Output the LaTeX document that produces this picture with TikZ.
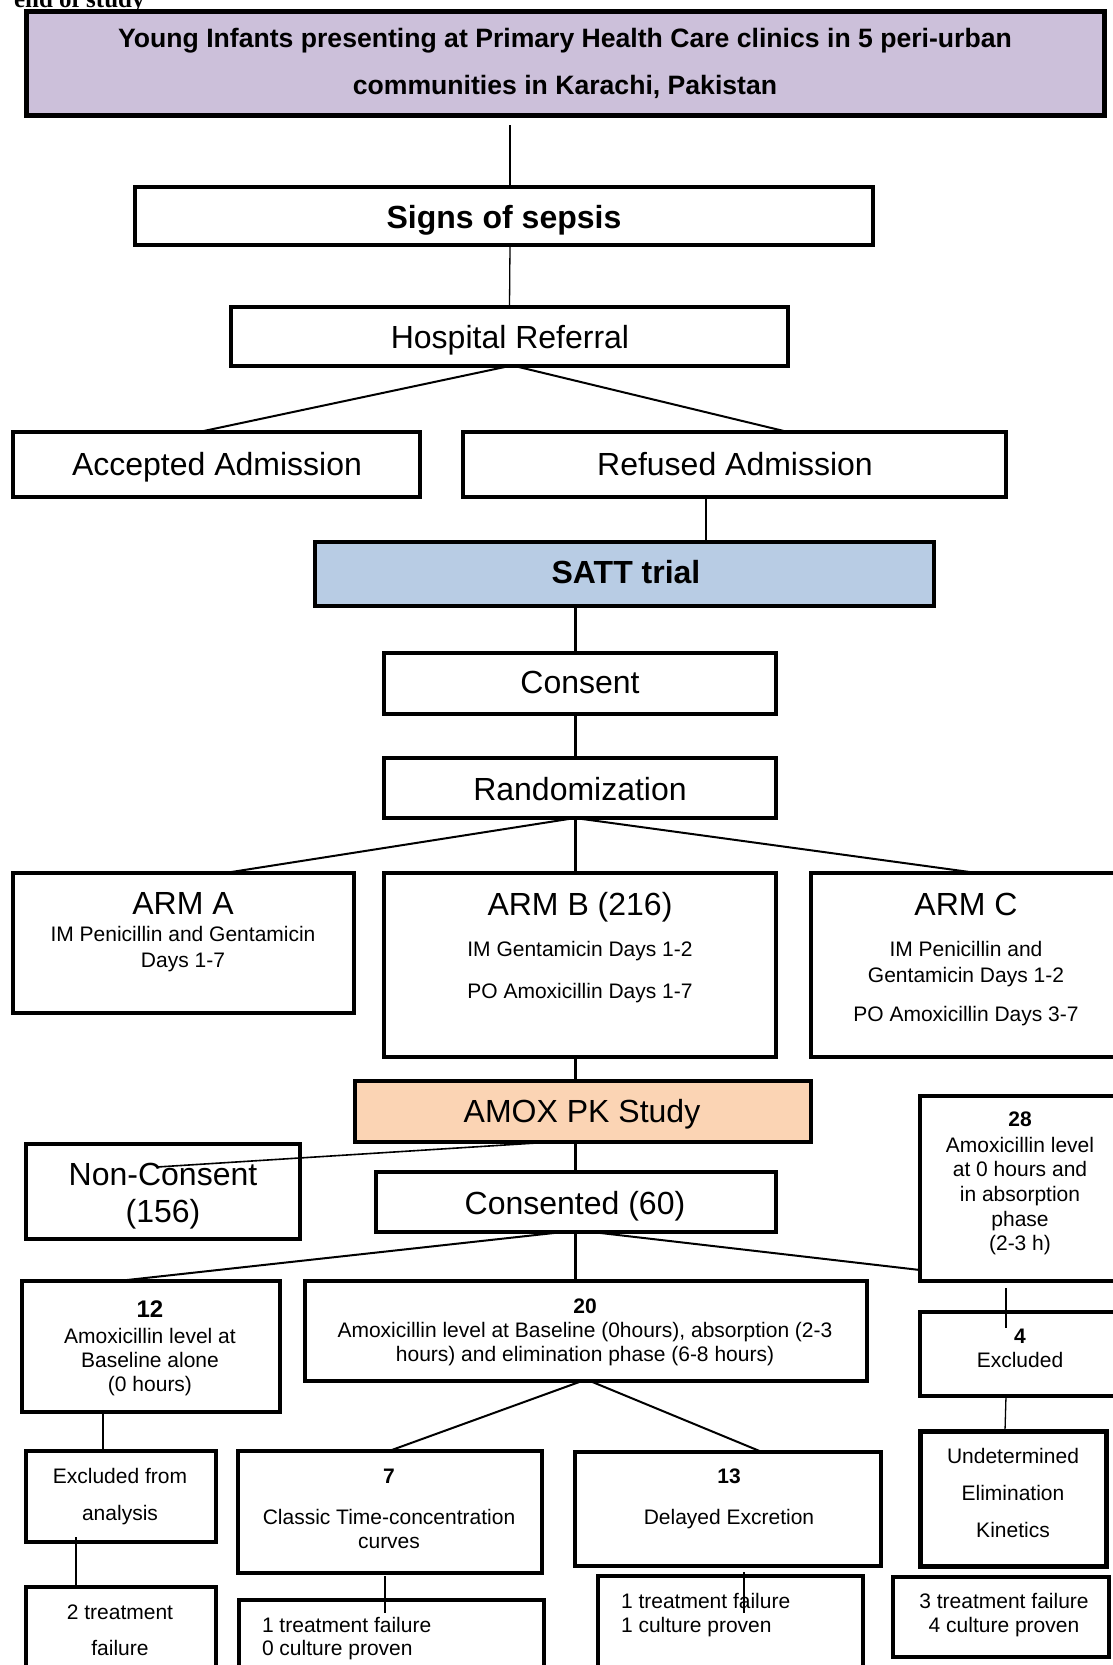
\documentclass[tikz,border=0pt]{standalone}
\usepackage{fontspec}
\setmainfont{Liberation Sans}
\newfontfamily\serifbold{Liberation Serif}
\usetikzlibrary{calc}
\definecolor{purp}{RGB}{204,192,218}
\definecolor{sattblue}{RGB}{184,204,228}
\definecolor{peach}{RGB}{251,212,180}
\newcommand\fsz[1]{\fontsize{#1}{#1}\selectfont}
\tikzset{
  boxst/.style={draw=black, line width=4.5pt, fill=white, rectangle, inner sep=0pt, outer sep=0pt},
  txt/.style={anchor=base, inner sep=0pt, outer sep=0pt},
  ltxt/.style={anchor=base west, inner sep=0pt, outer sep=0pt},
  fL/.style={font=\fsz{32}},
  fLb/.style={font=\bfseries\fsz{32}},
  fS/.style={font=\fsz{21}},
  fSb/.style={font=\bfseries\fsz{21}},
  thin/.style={line width=1.3pt},
  mid/.style={line width=2pt},
  thick3/.style={line width=3pt},
}
\newcommand\bx[6][]{\node[boxst,#1,minimum width={#4-#2},minimum height={#5-#3}] (#6) at ({(#2+#4)/2},{(#3+#5)/2}) {};}
\newcommand\tl[5]{\node[txt,#4] (#1) at (#2,#3) {#5};}
\newcommand\tll[5]{\node[ltxt,#4] (#1) at (#2,#3) {#5};}
\begin{document}
\begin{tikzpicture}[x=1pt,y=-1pt]
\useasboundingbox (0,0) rectangle (1113,1665);
\clip (0,0) rectangle (1113,1665);
% cut-off heading
\node[ltxt,font=\serifbold\bfseries\fsz{25}] (eos) at (14,7) {end of study};
% boxes
\bx[fill=purp,line width=5pt]{26}{11}{1104}{115}{top}
\bx{135}{187}{873}{245}{signs}
\bx{231}{307}{788}{366}{hosp}
\bx{13}{432}{420}{497}{acc}
\bx{463}{432}{1006}{497}{ref}
\bx[fill=sattblue]{315}{542}{934}{606}{satt}
\bx{384}{653}{776}{714}{consent}
\bx{384}{758}{776}{818}{rand}
\bx{13}{873}{354}{1013}{armA}
\bx{384}{873}{776}{1057}{armB}
\bx{811}{873}{1125}{1057}{armC}
\bx[fill=peach]{355}{1081}{811}{1142}{amox}
\bx{26}{1144}{300}{1239}{noncons}
\bx{376}{1172}{776}{1232}{cons60}
\bx{920}{1096}{1125}{1281}{b28}
\bx{22}{1281}{280}{1412}{b12}
\bx{305}{1281}{867}{1381}{b20}
\bx{920}{1312}{1125}{1396}{b4}
\bx{26}{1451}{216}{1542}{bExcl}
\bx{238}{1451}{542}{1573}{b7}
\bx{575}{1452}{881}{1566}{b13}
\bx[line width=5pt]{920}{1431}{1106}{1566}{bUnd}
\bx{26}{1587}{216}{1700}{b2tf}
\bx{239}{1600}{544}{1700}{b1tf0}
\bx{598}{1576}{863}{1700}{b1tf1}
\bx[line width=4pt]{893}{1577}{1109}{1657}{b3tf}
% texts
\tl{tTop1}{565}{47}{font=\bfseries\fsz{26.6}}{Young Infants presenting at Primary Health Care clinics in 5 peri-urban}
\tl{tTop2}{565}{94}{font=\bfseries\fsz{26.6}}{communities in Karachi, Pakistan}
\tl{tSigns}{504}{228}{fLb}{Signs of sepsis}
\tl{tHosp}{510}{348}{fL}{Hospital Referral}
\tl{tAcc}{217}{475}{fL}{Accepted Admission}
\tl{tRef}{735}{475}{fL}{Refused Admission}
\tl{tSatt}{626}{583}{fLb}{SATT trial}
\tl{tCons}{580}{693}{fL}{Consent}
\tl{tRand}{580}{800}{fL}{Randomization}
\tl{tA0}{183}{914}{fL}{ARM A}
\tl{tA1}{183}{941}{fS}{IM Penicillin and Gentamicin}
\tl{tA2}{183}{967}{fS}{Days 1-7}
\tl{tB0}{580}{915}{fL}{ARM B (216)}
\tl{tB1}{580}{956}{fS}{IM Gentamicin Days 1-2}
\tl{tB2}{580}{998}{fS}{PO Amoxicillin Days 1-7}
\tl{tC0}{966}{915}{fL}{ARM C}
\tl{tC1}{966}{956}{fS}{IM Penicillin and}
\tl{tC2}{966}{982}{fS}{Gentamicin Days 1-2}
\tl{tC3}{966}{1021}{fS}{PO Amoxicillin Days 3-7}
\tl{tAmox}{582}{1122}{fL}{AMOX PK Study}
\tl{tNon1}{163}{1185}{fL}{Non-Consent}
\tl{tNon2}{163}{1222}{fL}{(156)}
\tl{tC60}{575}{1214}{fL}{Consented (60)}
\tl{t28a}{1020}{1126}{fSb}{28}
\tl{t28b}{1020}{1152}{fS}{Amoxicillin level}
\tl{t28c}{1020}{1176}{fS}{at 0 hours and}
\tl{t28d}{1020}{1201}{fS}{in absorption}
\tl{t28e}{1020}{1226}{fS}{phase}
\tl{t28f}{1020}{1250}{fS}{(2-3 h)}
\tl{t12a}{150}{1317}{font=\bfseries\fsz{24}}{12}
\tl{t12b}{150}{1343}{fS}{Amoxicillin level at}
\tl{t12c}{150}{1367}{fS}{Baseline alone}
\tl{t12d}{150}{1391}{fS}{(0 hours)}
\tl{t20a}{585}{1313}{fSb}{20}
\tl{t20b}{585}{1337}{fS}{Amoxicillin level at Baseline (0hours), absorption (2-3}
\tl{t20c}{585}{1361}{fS}{hours) and elimination phase (6-8 hours)}
\tl{t4a}{1020}{1343}{fSb}{4}
\tl{t4b}{1020}{1367}{fS}{Excluded}
\tl{tExa}{120}{1483}{fS}{Excluded from}
\tl{tExb}{120}{1520}{fS}{analysis}
\tl{t7a}{389}{1483}{fSb}{7}
\tl{t7b}{389}{1524}{fS}{Classic Time-concentration}
\tl{t7c}{389}{1548}{fS}{curves}
\tl{t13a}{729}{1483}{fSb}{13}
\tl{t13b}{729}{1524}{fS}{Delayed Excretion}
\tl{tUa}{1013}{1463}{fS}{Undetermined}
\tl{tUb}{1013}{1500}{fS}{Elimination}
\tl{tUc}{1013}{1537}{fS}{Kinetics}
\tl{t3a}{1004}{1608}{fS}{3 treatment failure}
\tl{t3b}{1004}{1632}{fS}{4 culture proven}
\tll{t1aa}{621}{1608}{fS}{1 treatment failure}
\tll{t1ab}{621}{1632}{fS}{1 culture proven}
\tll{t1ba}{262}{1632}{fS}{1 treatment failure}
\tll{t1bb}{262}{1655}{fS}{0 culture proven}
\tl{t2a}{120}{1619}{fS}{2 treatment}
\tl{t2b}{120}{1655}{fS}{failure}
% connectors
\draw[thin] ([xshift=-55pt,yshift=-10pt]top.south) -- ([xshift=6pt]signs.north);
\draw[thin] ([xshift=6pt]signs.south) -- (hosp.north);
\draw[mid] (hosp.south) -- ([xshift=-17.5pt]acc.north);
\draw[mid] ([xshift=5pt]hosp.south) -- ([xshift=53.5pt]ref.north);
\draw[thin] ([xshift=-28.5pt]ref.south) -- ([xshift=81.5pt]satt.north);
\draw[thick3] ([xshift=-49.5pt]satt.south) -- ([xshift=-5pt]consent.north);
\draw[thick3] ([xshift=-5pt]consent.south) -- ([xshift=-5pt]rand.north);
\draw[mid] ([xshift=-5pt]rand.south) -- ([xshift=41.5pt]armA.north);
\draw[thick3] ([xshift=-5pt]rand.south) -- ([xshift=-5pt]armB.north);
\draw[mid] ([xshift=-5pt]rand.south) -- ([xshift=9pt]armC.north);
\draw[thick3] ([xshift=-5pt]armB.south) -- ([xshift=-8pt]amox.north);
\draw[line width=1.6pt] ([xshift=-31pt]amox.south) -- ([xshift=-6pt,yshift=-23pt]noncons.north);
\draw[thick3] ([xshift=-8pt]amox.south) -- ([xshift=-1pt]cons60.north);
\draw[mid] ([xshift=-13pt]cons60.south) -- ([xshift=-33pt]b12.north);
\draw[thick3] ([xshift=-1pt]cons60.south) -- ([xshift=-11pt]b20.north);
\draw[mid] ([xshift=16pt]cons60.south) -- ([yshift=-174pt]b28.north west);
\draw[thin] ([xshift=-16.5pt,yshift=-7pt]b28.south) -- ([xshift=-16.5pt,yshift=-16pt]b4.north);
\draw[thin] ([xshift=-16.5pt]b4.south) -- ([xshift=-8pt]bUnd.north);
\draw[mid] ([xshift=-4pt]b20.south) -- ([xshift=-1pt]b7.north);
\draw[mid] ([xshift=4pt]b20.south) -- ([xshift=34pt]b13.north);
\draw[thin] ([xshift=-48pt]b12.south) -- ([xshift=-18pt]bExcl.north);
\draw[thin] ([xshift=-45pt,yshift=5pt]bExcl.south) -- ([xshift=-45pt]b2tf.north);
\draw[thin] ([xshift=-5pt,yshift=-3pt]b7.south) -- ([xshift=-6.5pt,yshift=-13pt]b1tf0.north);
\draw[thin] ([xshift=16pt,yshift=-6pt]b13.south) -- ([xshift=13.5pt,yshift=-37pt]b1tf1.north);
\end{tikzpicture}
\end{document}
